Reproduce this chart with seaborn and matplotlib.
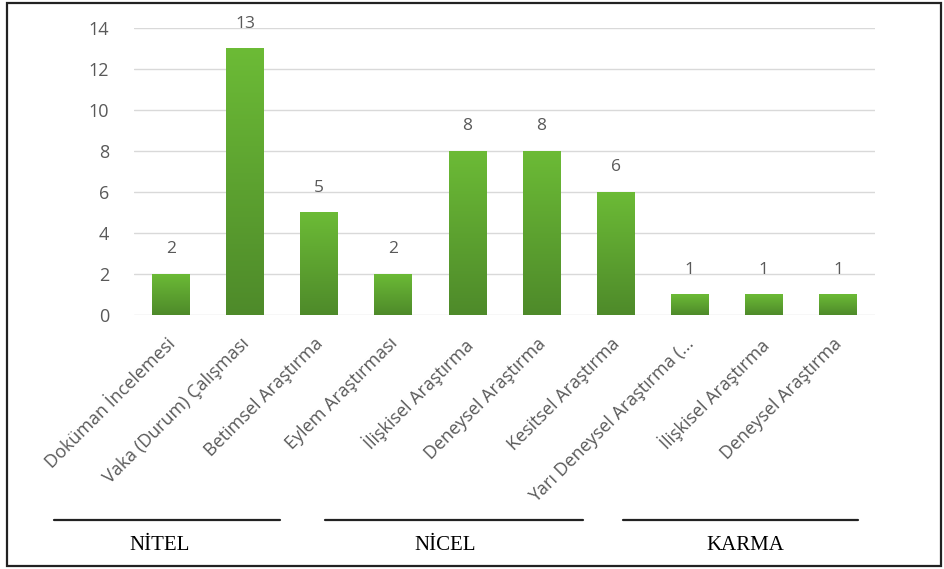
import numpy as np
import pandas as pd
import seaborn as sns
import matplotlib.pyplot as plt
from matplotlib.colors import LinearSegmentedColormap
from matplotlib.lines import Line2D
from matplotlib.patches import Rectangle
from matplotlib.transforms import ScaledTranslation

# Research designs and how many studies used each
categories = [
    "Doküman İncelemesi",
    "Vaka (Durum) Çalışması",
    "Betimsel Araştırma",
    "Eylem Araştırması",
    "İlişkisel Araştırma",
    "Deneysel Araştırma",
    "Kesitsel Araştırma",
    "Yarı Deneysel Araştırma (...",
    "İlişkisel Araştırma ",
    "Deneysel Araştırma ",
]
counts = [2, 13, 5, 2, 8, 8, 6, 1, 1, 1]
y_ticks = [0, 2, 4, 6, 8, 10, 12, 14]
groups = ["NİTEL", "NİCEL", "KARMA"]

df = pd.DataFrame({"design": categories, "count": counts})

sns.set_theme(style="white")
plt.rcParams["font.family"] = ["Open Sans", "DejaVu Sans"]

fig = plt.figure(figsize=(9.45, 5.69), dpi=100)
ax = fig.add_axes([0.1418, 0.4464, 0.7842, 0.5044])

sns.barplot(data=df, x="design", y="count", color="#5ea631", width=0.51,
            saturation=1, ax=ax, zorder=3)

# vertical green gradient inside each bar
cmap = LinearSegmentedColormap.from_list("g", ["#4e8a2a", "#6cbb36"])
grad = np.linspace(0, 1, 256).reshape(-1, 1)
for p in ax.patches:
    x0, w, h = p.get_x(), p.get_width(), p.get_height()
    im = ax.imshow(grad, extent=[x0, x0 + w, 0, h], origin="lower",
                   aspect="auto", cmap=cmap, zorder=3.5)
    im.set_clip_path(p)
    p.set_edgecolor("none")

ax.set_xlim(-0.5, len(categories) - 0.5)
ax.set_ylim(0, 14)
ax.set_yticks(y_ticks)
ax.yaxis.grid(True, color="#d9d9d9", linewidth=1.0, zorder=0)
ax.set_axisbelow(True)
for s in ax.spines.values():
    s.set_visible(False)
ax.set_xlabel("")
ax.set_ylabel("")

ax.tick_params(axis="y", length=0, pad=18, labelsize=13, labelcolor="#595959")
ax.tick_params(axis="x", length=0, pad=14, labelsize=13, labelcolor="#595959")
ax.set_xticks(range(len(categories)))
ax.set_xticklabels([c.strip() for c in categories], rotation=45, ha="right",
                   va="top", rotation_mode="anchor")
shift = ScaledTranslation(-5 / 100, 0, fig.dpi_scale_trans)
for lbl in ax.get_xticklabels():
    lbl.set_transform(lbl.get_transform() + shift)

# value labels above bars
for i, v in enumerate(counts):
    ax.annotate(str(v), (i, v), xytext=(0, 12), textcoords="offset points",
                ha="center", va="bottom", fontsize=12.5, color="#595959")

# group underlines and names
serif = ["Liberation Serif", "DejaVu Serif"]
spans = [(54, 280, 160), (325, 583, 445), (623, 858, 745)]
W, H = 945, 569
for (xa, xb, xc), name in zip(spans, groups):
    fig.add_artist(Line2D([xa / W, xb / W], [1 - 520 / H, 1 - 520 / H],
                          color="#222222", linewidth=1.6))
    fig.text(xc / W, 1 - 546 / H, name, ha="center", va="center",
             fontsize=15, family=serif, color="black")

# outer frame
fig.add_artist(Rectangle((7 / W, 1 - 566 / H), 934 / W, 563 / H,
                         fill=False, edgecolor="#222222", linewidth=1.6,
                         transform=fig.transFigure))

fig.savefig("out.png", dpi=100)
